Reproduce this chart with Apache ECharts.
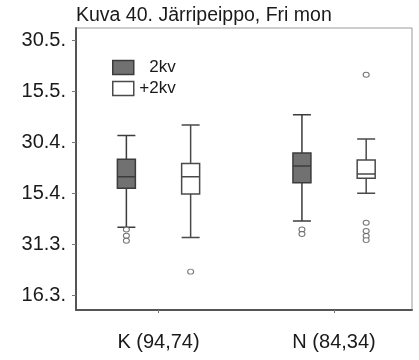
<!DOCTYPE html>
<html>
<head>
<meta charset="utf-8">
<script src="https://cdn.jsdelivr.net/npm/echarts@6/dist/echarts.min.js"></script>
<style>
html,body{margin:0;padding:0;background:#fff;}
#c{width:419px;height:360px;}
</style>
</head>
<body>
<div id="c"></div>
<script>
// Categories (groups) on the x axis
const categories = ['K (94,74)', 'N (84,34)'];
const seriesNames = ['2kv', '+2kv'];
// Box statistics per group: [min, Q1, median, Q3, max] as day of year
const box2kv = [
  [95.0, 106.5, 109.9, 115.0, 122.0],
  [96.8, 108.1, 113.0, 116.9, 128.1]
];
const boxPlus2kv = [
  [92.0, 104.8, 109.9, 113.8, 125.1],
  [105.0, 109.4, 110.7, 114.8, 121.0]
];
// Outliers: [groupIndex, day of year]
const outliers2kv = [[0, 94.3], [0, 92.5], [0, 91.0], [1, 94.3], [1, 93.0]];
const outliersPlus2kv = [[0, 81.9], [1, 139.9], [1, 96.3], [1, 93.9], [1, 92.4], [1, 91.2]];
// Y tick values (day of year) and their labels
const tickValues = [75, 90, 105, 120, 135, 150];
const tickLabels = ['16.3.', '31.3.', '15.4.', '30.4.', '15.5.', '30.5.'];

const BOX_OFFSET = 0.183; // dodge of each series within a group, in group units
const FONT = 'Liberation Sans, Arial, sans-serif';

const boxData = (arr, off) => arr.map((s, i) => [i + off].concat(s));
const ptData = (arr, off) => arr.map(p => [p[0] + off, p[1]]);

const darkStyle = { color: '#717171', borderColor: '#3c3c3c', borderWidth: 1.5 };
const lightStyle = { color: '#ffffff', borderColor: '#4a4a4a', borderWidth: 1.5 };

const chart = echarts.init(document.getElementById('c'), null, { renderer: 'canvas' });
const xBase = { type: 'value', min: -0.470, max: 1.444, splitLine: { show: false } };
chart.setOption({
  animation: false,
  backgroundColor: '#ffffff',
  title: {
    text: 'Kuva 40. Järripeippo, Fri mon',
    left: 76, top: 6, padding: 0,
    textStyle: { fontFamily: FONT, fontSize: 19.5, fontWeight: 'normal', color: '#1a1a1a' }
  },
  legend: {
    orient: 'vertical', left: 112, top: 59, padding: 0,
    itemWidth: 21, itemHeight: 14, itemGap: 4,
    formatter: '{t|{name}}',
    textStyle: { fontFamily: FONT, color: '#1a1a1a',
      rich: { t: { width: 37, align: 'right', fontSize: 17, lineHeight: 18, fontFamily: FONT, color: '#1a1a1a' } } },
    data: [
      { name: seriesNames[0], icon: 'rect', itemStyle: darkStyle },
      { name: seriesNames[1], icon: 'rect', itemStyle: lightStyle }
    ]
  },
  grid: { left: 76, right: 7, top: 28, bottom: 50, show: true, borderColor: '#9a9a9a', borderWidth: 1 },
  xAxis: [
    Object.assign({}, xBase, {
      axisLine: { show: true, onZero: false, lineStyle: { color: '#555', width: 2 } },
      axisTick: { show: true, customValues: [0, 1], length: 3, lineStyle: { color: '#777' } },
      axisLabel: { customValues: [0, 1], formatter: v => categories[Math.round(v)], fontFamily: FONT, fontSize: 20, color: '#1a1a1a', margin: 22 }
    }),
    Object.assign({}, xBase, { show: false })
  ],
  yAxis: {
    type: 'value', min: 70.6, max: 153.7,
    splitLine: { show: false },
    axisLine: { show: true, onZero: false, lineStyle: { color: '#555', width: 2 } },
    axisTick: { show: true, customValues: tickValues, length: 4, lineStyle: { color: '#777' } },
    axisLabel: {
      customValues: tickValues,
      formatter: v => tickLabels[tickValues.indexOf(Math.round(v))],
      fontFamily: FONT, fontSize: 20, color: '#1a1a1a', margin: 10, padding: [8, 0, 0, 0]
    }
  },
  series: [
    { name: seriesNames[0], type: 'boxplot', layout: 'horizontal', xAxisIndex: 0,
      boxWidth: [18, 18], itemStyle: darkStyle, data: boxData(box2kv, -BOX_OFFSET) },
    { name: seriesNames[1], type: 'boxplot', layout: 'horizontal', xAxisIndex: 1,
      boxWidth: [18, 18], itemStyle: lightStyle, data: boxData(boxPlus2kv, BOX_OFFSET) },
    { name: seriesNames[0], type: 'scatter', xAxisIndex: 0, symbol: 'circle', symbolSize: [6, 5],
      itemStyle: { color: '#fff', borderColor: '#555', borderWidth: 1 }, data: ptData(outliers2kv, -BOX_OFFSET) },
    { name: seriesNames[1], type: 'scatter', xAxisIndex: 1, symbol: 'circle', symbolSize: [6, 5],
      itemStyle: { color: '#fff', borderColor: '#555', borderWidth: 1 }, data: ptData(outliersPlus2kv, BOX_OFFSET) }
  ]
});
</script>
</body>
</html>
